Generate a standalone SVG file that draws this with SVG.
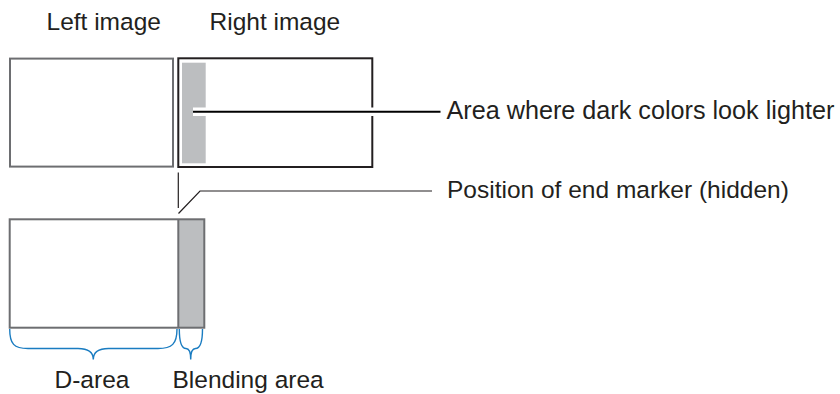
<svg xmlns="http://www.w3.org/2000/svg" width="840" height="394" viewBox="0 0 840 394">
<style>
text{font-family:"Liberation Sans",Arial,sans-serif;font-size:24.5px;fill:#231f20}
.gr{fill:none;stroke:#6d6e71;stroke-width:2}
.dk{fill:none;stroke:#231f20;stroke-width:2}
.strip{fill:#bcbec0}
.brace{fill:none;stroke:#1a7cc1;stroke-width:1.4}
.thin{fill:none;stroke:#231f20;stroke-width:1.2}
</style>
<rect width="840" height="394" fill="#ffffff"/>
<g id="left-image">
<rect class="gr" x="10" y="58.6" width="163" height="108"/>
<text x="46.5" y="29.5">Left image</text>
</g>
<g id="right-image">
<rect class="strip" x="182" y="62.7" width="23.7" height="100.6"/>
<rect class="dk" x="178.3" y="58.3" width="194" height="108.7"/>
<text x="209.5" y="29.5">Right image</text>
</g>
<g id="blended">
<rect class="strip" x="178.3" y="219.3" width="26" height="108.4"/>
<rect class="gr" x="9.7" y="219.3" width="194.6" height="108.4"/>
<line class="gr" x1="178.3" y1="219.3" x2="178.3" y2="327.7"/>
</g>
<g id="braces">
<path class="brace" d="M9.7,329 C9.7,344 14,348.5 28,348.5 L78,348.5 C88,348.5 93.3,352 93.3,359.5 C93.3,352 98.5,348.5 108.5,348.5 L158,348.5 C172,348.5 177,344 177,329"/>
<path class="brace" d="M179.3,329 C179.3,343 182,348.5 186,348.5 C189,348.5 190.7,352 190.7,359.5 C190.7,352 192.5,348.5 195.5,348.5 C199.5,348.5 202.5,343 202.5,329"/>
</g>
<g id="labels">
<text x="54.5" y="388">D-area</text>
<text x="172.5" y="388">Blending area</text>
<text x="446.5" y="119" style="font-size:25.2px">Area where dark colors look lighter</text>
<text x="447" y="198">Position of end marker (hidden)</text>
</g>
<g id="connectors">
<line x1="193" y1="111.7" x2="385" y2="111.7" stroke="#ffffff" stroke-width="8.5"/>
<line x1="193" y1="111.7" x2="440.5" y2="111.7" stroke="#000000" stroke-width="2"/>
<line class="thin" x1="178.3" y1="172.5" x2="178.3" y2="208"/>
<polyline class="thin" points="178.5,213.5 200,191 432,191"/>
</g>
</svg>
